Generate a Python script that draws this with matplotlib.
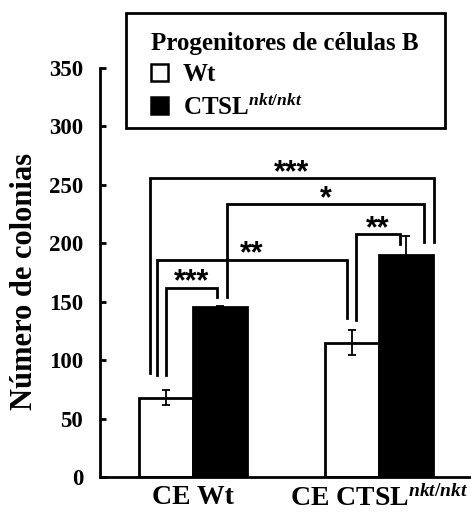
import matplotlib
matplotlib.use("Agg")
import matplotlib.pyplot as plt
from matplotlib.patches import Patch, Rectangle
import numpy as np

plt.rcParams['mathtext.fontset'] = 'custom'
plt.rcParams['mathtext.rm'] = 'Liberation Serif:bold'
plt.rcParams['mathtext.it'] = 'Liberation Serif:italic:bold'
plt.rcParams['mathtext.bf'] = 'Liberation Serif:bold'

groups = ['CE Wt', r'CE CTSL$^{\mathit{nkt/nkt}}$']
series = ['Wt', r'CTSL$^{\mathit{nkt/nkt}}$']
wt_vals = [68, 115]
wt_err = [6.5, 11]
ctsl_vals = [145, 190]
ctsl_err = [1, 16]
yticks = [0, 50, 100, 150, 200, 250, 300, 350]

# significance brackets: (bar a, leg offset a, bottom a, bar b, leg offset b, bottom b, height, label)
brackets = [
    (0, -0.086, 89, 3, 0.151, 201, 256, '***'),
    (1, 0.038, 154, 3, 0.097, 201, 233.6, '*'),
    (2, 0.021, 134, 3, -0.032, 199, 208, '**'),
    (0, -0.049, 87, 2, -0.027, 136, 186, '**'),
    (0, 0.0, 87, 1, -0.016, 154, 162, '***'),
]

W, H = 471, 514
fig = plt.figure(figsize=(W / 100, H / 100), dpi=100)
ax = fig.add_axes([0.212, 0.072, 0.786, 0.796])

w = 0.29
x = np.arange(len(groups))
ekw = dict(elinewidth=1.3, capsize=2.8, capthick=1.3, ecolor='black')
ax.bar(x - w/2, wt_vals, w, yerr=wt_err, color='white', edgecolor='black', linewidth=2, error_kw=ekw)
ax.bar(x + w/2, ctsl_vals, w, yerr=ctsl_err, color='black', edgecolor='black', linewidth=2, error_kw=ekw)

centers = [x[0] - w/2, x[0] + w/2, x[1] - w/2, x[1] + w/2]
for a, oa, ba, b, ob, bb, h, lab in brackets:
    xa = centers[a] + oa
    xb = centers[b] + ob
    ax.plot([xa, xa, xb, xb], [ba, h, h, bb], color='black', lw=2, solid_joinstyle='miter', clip_on=False)
    ax.text((xa + xb) / 2, h - 2.6, lab, ha='center', va='baseline', fontsize=22,
            fontweight='bold', family='Liberation Sans')

ax.set_xlim(-0.5, 1.49)
ax.set_ylim(0, 350)
ax.set_yticks(yticks)
ax.set_yticklabels([str(t) for t in yticks], fontsize=16.5, fontweight='bold', family='Liberation Serif')
ax.set_xticks(x)
ax.set_xticklabels(groups, fontsize=20, fontweight='bold', family='Liberation Serif')
ax.tick_params(axis='x', length=0, pad=6)
ax.tick_params(axis='y', direction='in', length=4, width=2, pad=12)
for s in ['top', 'right']:
    ax.spines[s].set_visible(False)
for s in ['left', 'bottom']:
    ax.spines[s].set_linewidth(2)

ax.set_ylabel('Número de colonias', fontsize=22, fontweight='bold', family='Liberation Serif')
ax.yaxis.set_label_coords(-0.165, 0.477)

# legend: frame drawn as a figure rectangle, content as a frameless legend
fig.patches.append(Rectangle((126 / W, 1 - 128 / H), (445 - 126) / W, (128 - 13) / H,
                             transform=fig.transFigure, facecolor='white', edgecolor='black',
                             linewidth=2, zorder=5))
handles = [Patch(facecolor='white', edgecolor='black', linewidth=1.8),
           Patch(facecolor='black', edgecolor='black', linewidth=1.8)]
leg = fig.legend(handles, series, loc='upper left', bbox_to_anchor=(151 / W, 1 - 32 / H),
                 title='Progenitores de células B', alignment='left',
                 prop=dict(family='Liberation Serif', weight='bold', size=18),
                 title_fontproperties=dict(family='Liberation Serif', weight='bold', size=18),
                 frameon=False, borderpad=0,
                 handlelength=0.68, handleheight=0.68, handletextpad=0.6, labelspacing=0.32,
                 borderaxespad=0)
leg.set_zorder(6)

fig.savefig('out.png', dpi=100)
